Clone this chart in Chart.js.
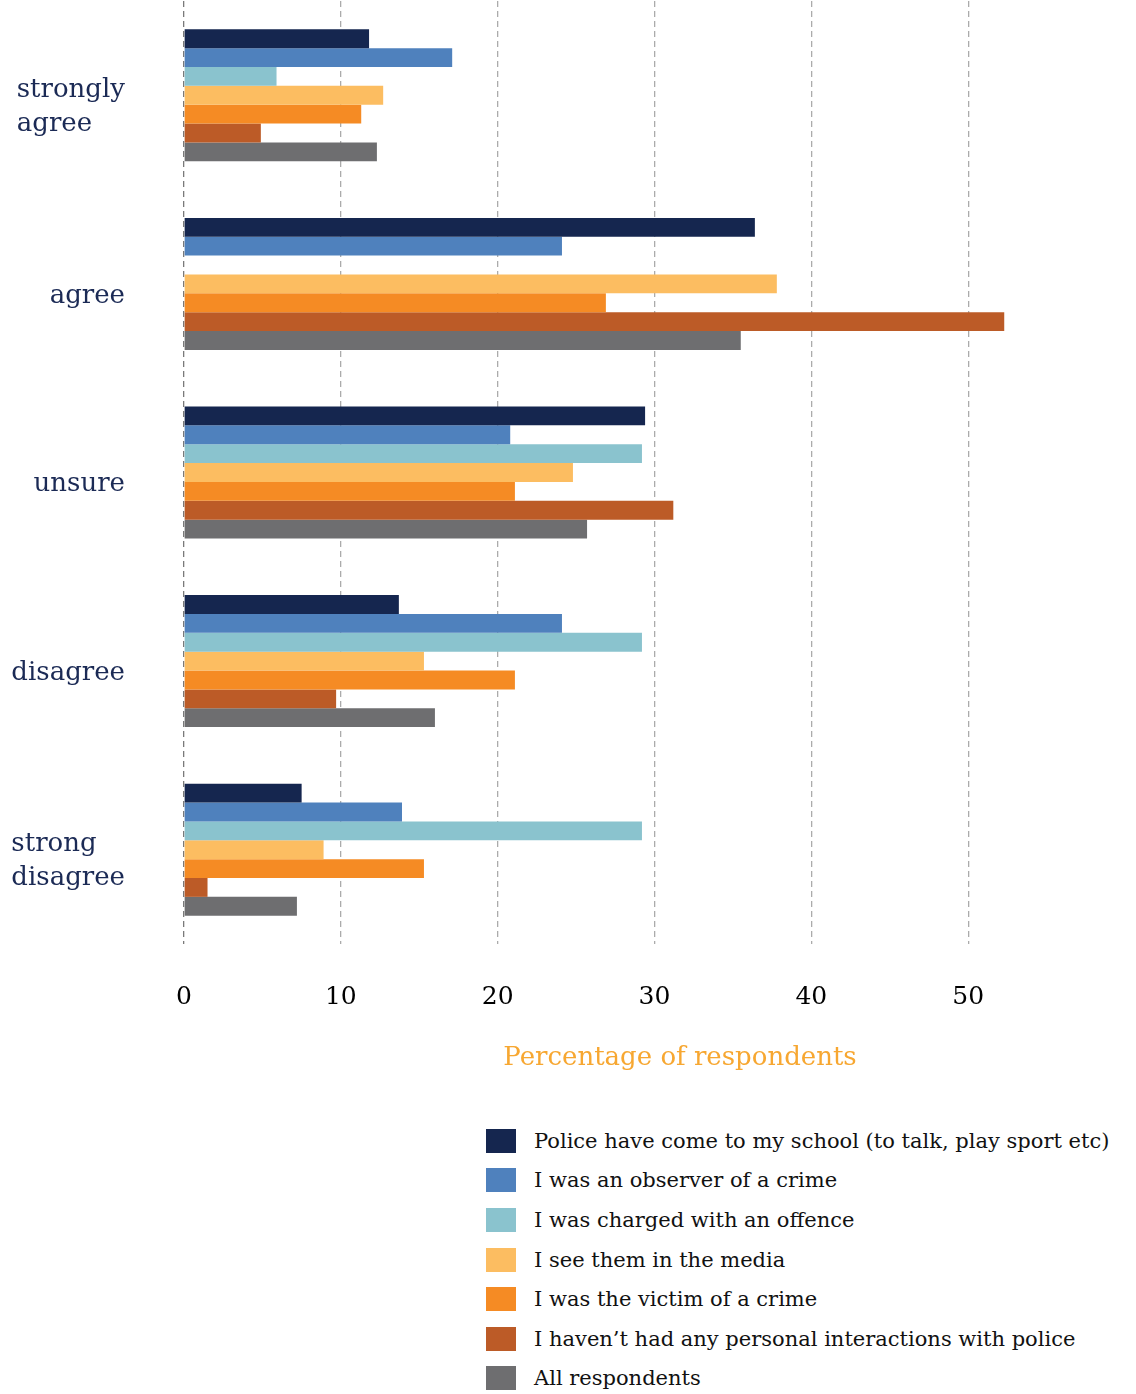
<!DOCTYPE html>
<html>
<head>
<meta charset="utf-8">
<script src="https://cdn.jsdelivr.net/npm/chart.js@4.4.1/dist/chart.umd.min.js"></script>
<style>
  html, body { margin: 0; padding: 0; background: #fff; }
  #wrap { position: relative; width: 1136px; height: 1394px; }
  #chartBox { position: absolute; left: 0; top: 0; width: 1136px; height: 1100px; }
  #legend { position: absolute; left: 486px; top: 1121px; }
  #legend ul { list-style: none; margin: 0; padding: 0; }
  #legend li { display: flex; align-items: center; height: 39.6px; font-family: "DejaVu Serif", serif; font-size: 21px; color: #111; white-space: nowrap; }
  #legend li span.box { display: inline-block; width: 30px; height: 24px; margin-right: 18px; }
</style>
</head>
<body>
<div id="wrap">
  <div id="chartBox"><canvas id="barChart"></canvas></div>
  <div id="legend"></div>
</div>
<script>
const categories = [['strongly', 'agree'], ['agree'], ['unsure'], ['disagree'], ['strong', 'disagree']];

const seriesNames = [
    'Police have come to my school (to talk, play sport etc)',
    'I was an observer of a crime',
    'I was charged with an offence',
    'I see them in the media',
    'I was the victim of a crime',
    'I haven\u2019t had any personal interactions with police',
    'All respondents'
];

const seriesColors = ['#15264f', '#4f81bd', '#8ac3ce', '#fcbd61', '#f58b24', '#bc5b27', '#6e6e70'];

// percentage of respondents, one list per group in seriesNames order
const schoolVisit   = [11.8, 36.4, 29.4, 13.7, 7.5];
const observer      = [17.1, 24.1, 20.8, 24.1, 13.9];
const charged       = [5.9, 0, 29.2, 29.2, 29.2];
const media         = [12.7, 37.8, 24.8, 15.3, 8.9];
const victim        = [11.3, 26.9, 21.1, 21.1, 15.3];
const noInteraction = [4.9, 52.3, 31.2, 9.7, 1.5];
const allResp       = [12.3, 35.5, 25.7, 16.0, 7.2];

const xTicks = [0, 10, 20, 30, 40, 50];

const seriesValues = [schoolVisit, observer, charged, media, victim, noInteraction, allResp];

// category names on the left, right-aligned block with left-aligned lines,
// sitting a little below the middle of each group
const categoryLabels = {
    id: 'categoryLabels',
    afterDraw(chart) {
        const ctx = chart.ctx;
        const y = chart.scales.y;
        ctx.save();
        ctx.font = '26px "DejaVu Serif", serif';
        ctx.fillStyle = '#1b2a55';
        ctx.textBaseline = 'middle';
        ctx.textAlign = 'left';
        const lineH = 34;
        categories.forEach((lines, i) => {
            const cy = y.getPixelForValue(i) + 12;
            const w = Math.max(...lines.map(l => ctx.measureText(l).width));
            const x0 = 125 - w;
            const top = cy - (lines.length - 1) * lineH / 2;
            lines.forEach((l, j) => ctx.fillText(l, x0, top + j * lineH));
        });
        ctx.restore();
    }
};

// axis title placed under the tick labels
const axisTitle = {
    id: 'axisTitle',
    afterDraw(chart) {
        const ctx = chart.ctx;
        ctx.save();
        ctx.font = '26px "DejaVu Serif", serif';
        ctx.fillStyle = '#f7a731';
        ctx.textAlign = 'center';
        ctx.textBaseline = 'middle';
        ctx.fillText('Percentage of respondents', 680, 1058);
        ctx.restore();
    }
};

const htmlLegend = {
    id: 'htmlLegend',
    afterUpdate(chart) {
        const box = document.getElementById('legend');
        box.innerHTML = '';
        const ul = document.createElement('ul');
        chart.options.plugins.legend.labels.generateLabels(chart).forEach(item => {
            const li = document.createElement('li');
            const sw = document.createElement('span');
            sw.className = 'box';
            sw.style.background = item.fillStyle;
            li.appendChild(sw);
            li.appendChild(document.createTextNode(item.text));
            ul.appendChild(li);
        });
        box.appendChild(ul);
    }
};

const ctx = document.getElementById('barChart').getContext('2d');

new Chart(ctx, {
    type: 'bar',
    data: {
        labels: categories.map(c => c.join(' ')),
        datasets: seriesNames.map((name, i) => ({
            label: name,
            data: seriesValues[i],
            backgroundColor: seriesColors[i],
            borderWidth: 0,
            categoryPercentage: 0.7,
            barPercentage: 1.0
        }))
    },
    options: {
        indexAxis: 'y',
        responsive: true,
        maintainAspectRatio: false,
        animation: false,
        layout: { padding: { left: 184, right: 11, top: 1, bottom: 50 } },
        scales: {
            x: {
                min: 0,
                max: 60,
                afterBuildTicks(scale) {
                    scale.ticks = xTicks.map(v => ({ value: v }));
                },
                grid: {
                    drawTicks: false,
                    color: ctx => ctx.tick && ctx.tick.value === 0 ? '#7a7a7a' : '#ababab',
                    lineWidth: 1.3
                },
                border: { display: false, dash: [6, 4] },
                ticks: {
                    padding: 38,
                    color: '#000',
                    font: { family: '"DejaVu Serif", serif', size: 25 }
                }
            },
            y: {
                display: false
            }
        },
        plugins: {
            legend: { display: false },
            tooltip: { enabled: false }
        }
    },
    plugins: [categoryLabels, axisTitle, htmlLegend]
});
</script>
</body>
</html>
